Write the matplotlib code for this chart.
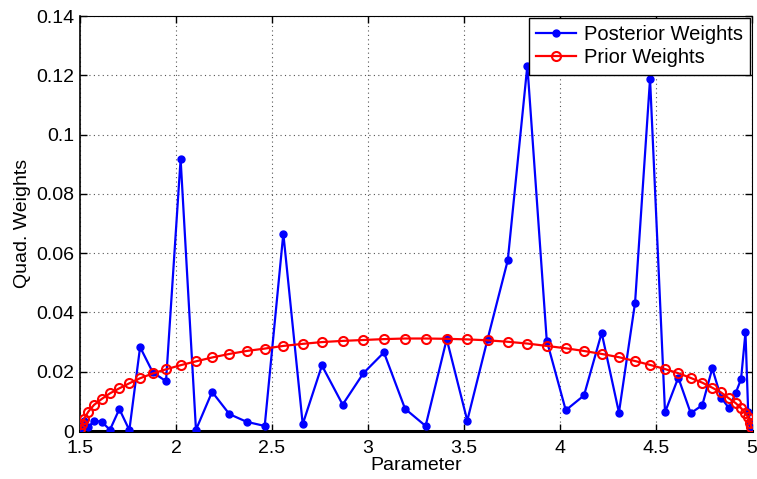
import matplotlib
matplotlib.use("Agg")
import matplotlib.pyplot as plt
from matplotlib.ticker import FormatStrFormatter, MultipleLocator

nodes = [1.501, 1.509, 1.522, 1.543, 1.573, 1.613, 1.656, 1.705, 1.757, 1.813,
         1.879, 1.948, 2.024, 2.104, 2.188, 2.278, 2.368, 2.462, 2.559, 2.660,
         2.760, 2.868, 2.976, 3.083, 3.193, 3.300, 3.410, 3.517, 3.623, 3.728,
         3.830, 3.931, 4.030, 4.125, 4.217, 4.307, 4.391, 4.469, 4.547, 4.616,
         4.681, 4.741, 4.793, 4.839, 4.880, 4.915, 4.943, 4.966, 4.980, 4.990,
         4.997]

posterior = [0.0004, 0.0025, 0.0035, 0.0012, 0.0035, 0.0031, 0.0004, 0.0074, 0.0003, 0.0283,
             0.0198, 0.0168, 0.0917, 0.0004, 0.0132, 0.0057, 0.0031, 0.0017, 0.0666, 0.0023,
             0.0221, 0.0089, 0.0195, 0.0265, 0.0075, 0.0017, 0.0310, 0.0035, 0.0310, 0.0576,
             0.1233, 0.0305, 0.0070, 0.0120, 0.0331, 0.0062, 0.0433, 0.1188, 0.0063, 0.0180,
             0.0060, 0.0087, 0.0211, 0.0113, 0.0077, 0.0128, 0.0175, 0.0333, 0.0065, 0.0030,
             0.0008]

prior = [0.0006, 0.0022, 0.0042, 0.0065, 0.0088, 0.0108, 0.0127, 0.0144, 0.0161, 0.0178,
         0.0194, 0.0208, 0.0222, 0.0235, 0.0248, 0.0260, 0.0270, 0.0278, 0.0287, 0.0294,
         0.0300, 0.0304, 0.0307, 0.0310, 0.0312, 0.0312, 0.0311, 0.0309, 0.0306, 0.0301,
         0.0295, 0.0287, 0.0279, 0.0270, 0.0260, 0.0249, 0.0236, 0.0223, 0.0209, 0.0195,
         0.0179, 0.0163, 0.0146, 0.0130, 0.0110, 0.0094, 0.0077, 0.0060, 0.0046, 0.0028,
         0.0013]

plt.rcParams['font.family'] = ['Liberation Sans', 'DejaVu Sans']

fig = plt.figure(figsize=(7.57, 4.79), dpi=100)
ax = fig.add_axes([80/757, 1-431/479, 672/757, 415/479])

ax.plot(nodes, posterior, color='#0000ff', lw=1.6, marker='o', ms=5,
        mfc='#0000ff', mec='#0000ff', label='Posterior Weights', zorder=3)
ax.plot(nodes, prior, color='#ff0000', lw=1.6, marker='o', ms=6.5,
        mfc='none', mec='#ff0000', mew=1.5, label='Prior Weights', zorder=4)

ax.set_xlim(1.5, 5)
ax.set_ylim(0, 0.14)
ax.xaxis.set_major_locator(MultipleLocator(0.5))
ax.yaxis.set_major_locator(MultipleLocator(0.02))
ax.xaxis.set_major_formatter(FormatStrFormatter('%g'))
ax.yaxis.set_major_formatter(FormatStrFormatter('%g'))
ax.grid(True, linestyle=(0, (1, 3)), color='#555555', linewidth=0.8)
ax.set_axisbelow(True)
ax.tick_params(direction='in', length=5, width=1, labelsize=14,
               top=True, right=True, colors='black')
ax.tick_params(axis='x', pad=6.5)
ax.tick_params(axis='y', pad=4)
for s in ['top', 'right']:
    ax.spines[s].set_linewidth(0.8)
ax.spines['bottom'].set_linewidth(2.2)
ax.spines['left'].set_linewidth(1.2)

ax.set_xlabel('Parameter', fontsize=14, labelpad=0)
ax.set_ylabel('Quad. Weights', fontsize=14, labelpad=4)

leg = ax.legend(loc='upper right', fontsize=14.5, fancybox=False, framealpha=1,
                edgecolor='black', borderaxespad=0.12, handlelength=2.0,
                borderpad=0.35, labelspacing=0.2, handletextpad=0.35)
leg.get_frame().set_linewidth(1.0)

fig.savefig('out.png', dpi=100)
